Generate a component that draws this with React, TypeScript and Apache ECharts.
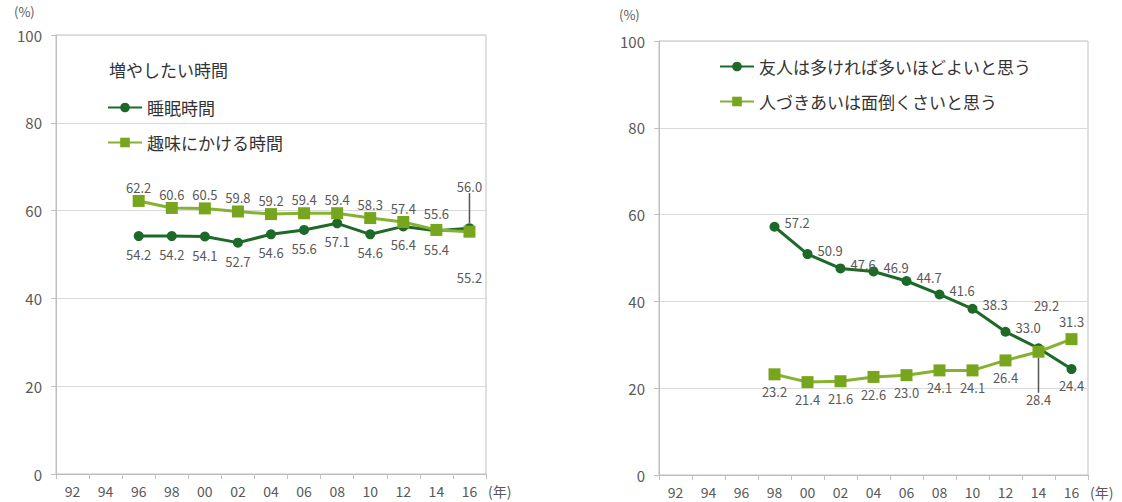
import React, { useEffect, useRef } from "react";
import * as echarts from "echarts";

// Survey years (2-digit) shared by both panels
const years = ["92", "94", "96", "98", "00", "02", "04", "06", "08", "10", "12", "14", "16"];

// Left panel: time people want to increase (%), from 1996
const sleepTime = [null, null, 54.2, 54.2, 54.1, 52.7, 54.6, 55.6, 57.1, 54.6, 56.4, 55.4, 56.0];
const hobbyTime = [null, null, 62.2, 60.6, 60.5, 59.8, 59.2, 59.4, 59.4, 58.3, 57.4, 55.6, 55.2];

// Right panel: attitudes to friendship (%), from 1998
const moreFriends = [null, null, null, 57.2, 50.9, 47.6, 46.9, 44.7, 41.6, 38.3, 33.0, 29.2, 24.4];
const bothersome = [null, null, null, 23.2, 21.4, 21.6, 22.6, 23.0, 24.1, 24.1, 26.4, 28.4, 31.3];

// Axis ticks
const yTicks = { min: 0, max: 100, interval: 20 };

const DARK = "#1d6a28";
const LIGHT = "#78a51e";
const LIGHT_LINE = "#86b232";
const TXT = "#595959";
const FONT = "'Noto Sans CJK JP', 'Noto Sans', sans-serif";

const fmt = (p: any) => Number(p.value).toFixed(1);

type LabelOverride = Record<number, any>;

const buildData = (values: (number | null)[], overrides: LabelOverride, lines: number[] = []) =>
  values.map((v, i) => {
    if (v == null) return null;
    const item: any = { value: v };
    if (overrides[i]) item.label = overrides[i];
    if (lines.includes(i)) item.labelLine = { show: true, lineStyle: { color: "#555", width: 1.5 } };
    return item;
  });

const lineSeries = (
  name: string,
  values: (number | null)[],
  axisIndex: number,
  kind: "circle" | "square",
  label: any,
  overrides: LabelOverride,
  lines: number[] = [],
  layout?: (p: any) => any
) => ({
  type: "line",
  name,
  xAxisIndex: axisIndex,
  yAxisIndex: axisIndex,
  data: buildData(values, overrides, lines),
  symbol: kind === "circle" ? "circle" : "rect",
  symbolSize: kind === "circle" ? 10 : 12,
  lineStyle: { width: 3, color: kind === "circle" ? DARK : LIGHT_LINE },
  itemStyle: { color: kind === "circle" ? DARK : LIGHT },
  label: {
    show: true,
    formatter: fmt,
    color: TXT,
    fontSize: 13,
    fontFamily: FONT,
    ...label,
  },
  labelLayout: layout,
  emphasis: { disabled: true },
  z: kind === "circle" ? 3 : 4,
});

const xAxisOf = (gridIndex: number) => ({
  type: "category",
  gridIndex,
  data: years,
  boundaryGap: true,
  axisLine: { lineStyle: { color: "#bfbfbf" } },
  axisTick: { show: true, length: 5, lineStyle: { color: "#bfbfbf" } },
  axisLabel: { color: TXT, fontSize: 14, fontFamily: FONT, margin: 10, interval: 0 },
  name: "(年)",
  nameLocation: "end",
  nameGap: 2,
  nameTextStyle: {
    color: TXT,
    fontSize: 14,
    fontFamily: FONT,
    verticalAlign: "top",
    padding: [10, 0, 0, 0],
  },
});

const yAxisOf = (gridIndex: number) => ({
  type: "value",
  gridIndex,
  ...yTicks,
  axisLine: { show: true, lineStyle: { color: "#bfbfbf" } },
  axisTick: { show: true, length: 5, lineStyle: { color: "#bfbfbf" } },
  axisLabel: { color: TXT, fontSize: 15, fontFamily: FONT, margin: 14 },
  splitLine: { lineStyle: { color: "#d9d9d9" } },
});

export default function App() {
  const ref = useRef<HTMLDivElement>(null);

  useEffect(() => {
    if (!ref.current) return;
    const chart = echarts.init(ref.current, null, { renderer: "svg" });

    const option: any = {
      animation: false,
      backgroundColor: "#ffffff",
      textStyle: { fontFamily: FONT },
      title: {
        text: "増やしたい時間",
        left: 104,
        top: 56,
        textStyle: { fontSize: 17, fontWeight: "normal", color: "#333", fontFamily: FONT },
      },
      legend: [
        {
          data: ["睡眠時間", "趣味にかける時間"],
          orient: "vertical",
          left: 102,
          top: 94,
          itemWidth: 34,
          itemHeight: 12,
          itemGap: 18,
          textStyle: { fontSize: 17, color: "#333", fontFamily: FONT },
          selectedMode: false,
        },
        {
          data: ["友人は多ければ多いほどよいと思う", "人づきあいは面倒くさいと思う"],
          orient: "vertical",
          left: 714,
          top: 53,
          itemWidth: 34,
          itemHeight: 12,
          itemGap: 18,
          textStyle: { fontSize: 17, color: "#333", fontFamily: FONT },
          selectedMode: false,
        },
      ],
      grid: [
        { left: 56, right: 636, top: 35, bottom: 28, show: true, borderColor: "#bfbfbf", borderWidth: 1 },
        { left: 659, right: 34, top: 41, bottom: 27, show: true, borderColor: "#bfbfbf", borderWidth: 1 },
      ],
      xAxis: [xAxisOf(0), xAxisOf(1)],
      yAxis: [yAxisOf(0), yAxisOf(1)],
      graphic: [
        { type: "text", left: 14, top: 5, style: { text: "(%)", fill: TXT, font: `13px ${FONT}` } },
        { type: "text", left: 619, top: 8, style: { text: "(%)", fill: TXT, font: `13px ${FONT}` } },
      ],
      series: [
        lineSeries(
          "睡眠時間",
          sleepTime,
          0,
          "circle",
          { position: "bottom", distance: 7 },
          {
            8: { offset: [0, 4] },
            11: { offset: [0, 4] },
            12: { position: "top", distance: 1 },
          },
          [12],
          (p: any) => (p.dataIndex === 12 ? { dy: -29 } : {})
        ),
        lineSeries(
          "趣味にかける時間",
          hobbyTime,
          0,
          "square",
          { position: "top", distance: 1 },
          {
            11: { offset: [0, -3] },
            12: { position: "bottom", distance: 7, offset: [0, 26] },
          }
        ),
        lineSeries(
          "友人は多ければ多いほどよいと思う",
          moreFriends,
          1,
          "circle",
          { position: "right", distance: 5, offset: [0, -4] },
          {
            11: { position: "top", distance: 5, offset: [8, -26] },
            12: { position: "bottom", distance: 5, offset: [0, 0] },
          }
        ),
        lineSeries(
          "人づきあいは面倒くさいと思う",
          bothersome,
          1,
          "square",
          { position: "bottom", distance: 5 },
          {
            10: { position: "bottom", distance: 5, offset: [14, -3] },
            12: { position: "top", distance: 5, offset: [14, 0] },
          },
          [11],
          (p: any) => (p.dataIndex === 11 ? { dy: 30 } : {})
        ),
      ],
    };

    chart.setOption(option);
    return () => chart.dispose();
  }, []);

  return (
    <div
      ref={ref}
      style={{ position: "absolute", left: 0, top: 0, width: 1122, height: 502, background: "#fff" }}
    />
  );
}
